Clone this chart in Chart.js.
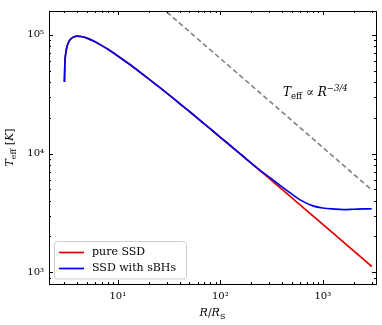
<!DOCTYPE html>
<html>
<head>
<meta charset="utf-8">
<script src="https://cdn.jsdelivr.net/npm/chart.js@4"></script>
<style>
  html, body { margin: 0; padding: 0; background: #fff; }
</style>
</head>
<body>
<canvas id="teffChart" width="382" height="325"></canvas>
<script>
// radius in units of R_S, temperatures in K
const radius = [3.01, 3.05, 3.1, 3.2, 3.35, 3.5, 3.75, 4, 4.5, 5, 6, 7, 8, 10, 13, 16, 20, 25, 32, 40, 50, 65, 80, 100, 130, 160, 200, 250, 300, 400, 500, 600, 800, 1000, 1300, 1600, 2000, 2500, 3000];
const tempPure = [40000, 59500, 69700, 80400, 88600, 92900, 96400, 97500, 96500, 93900, 87400, 81200, 75600, 66400, 56500, 49400, 42600, 36600, 30900, 26400, 22600, 18700, 16100, 13700, 11350, 9760, 8290, 7040, 6160, 4980, 4220, 3690, 2980, 2530, 2080, 1780, 1510, 1280, 1115];
const tempSBH = [40000, 59500, 69700, 80400, 88600, 92900, 96400, 97500, 96500, 93900, 87400, 81200, 75600, 66400, 56500, 49400, 42600, 36600, 30900, 26400, 22600, 18700, 16100, 13700, 11350, 9760, 8290, 7110, 6320, 5230, 4540, 4065, 3620, 3470, 3400, 3370, 3390, 3410, 3420];

// T ~ R^-3/4 guide line
const guideRadius = [20, 3000];
const guideTemp = [211500, 4930];

const seriesLabels = ["pure SSD", "SSD with sBHs"];
const seriesColors = ["rgb(220,0,0)", "rgb(0,0,235)"];

const xTickVals = [10, 100, 1000];
const yTickVals = [1000, 10000, 100000];
const supDigits = { "1": "\u00b9", "2": "\u00b2", "3": "\u00b3", "4": "\u2074", "5": "\u2075" };

const SERIF = "'DejaVu Serif', serif";

function toPoints(xs, ys) {
  return xs.map((x, i) => ({ x: x, y: ys[i] }));
}

function powLabel(v) {
  const e = Math.round(Math.log10(v));
  return "10" + supDigits[String(e)];
}

// draws a list of text pieces one after another
function drawRich(ctx, parts, x, y, align) {
  let total = 0;
  parts.forEach(p => { ctx.font = p.font; total += ctx.measureText(p.t).width; });
  let cx = align === "center" ? x - total / 2 : x;
  parts.forEach(p => {
    ctx.font = p.font;
    ctx.fillText(p.t, cx, y + (p.dy || 0));
    cx += ctx.measureText(p.t).width;
  });
}

const decorPlugin = {
  id: "decor",
  afterDatasetsDraw(chart) {
    const ctx = chart.ctx;
    const a = chart.chartArea;
    const xs = chart.scales.x, ys = chart.scales.y;
    ctx.save();
    ctx.strokeStyle = "#000";
    ctx.lineWidth = 1;

    // inward ticks on all four sides
    function ticksFor(scale, horizontal) {
      const lo = Math.floor(Math.log10(scale.min)), hi = Math.ceil(Math.log10(scale.max));
      for (let e = lo; e <= hi; e++) {
        for (let k = 1; k < 10; k++) {
          const v = k * Math.pow(10, e);
          if (v < scale.min || v > scale.max) continue;
          const len = k === 1 ? 4 : 2;
          const p = Math.round(scale.getPixelForValue(v)) + 0.5;
          ctx.beginPath();
          if (horizontal) {
            ctx.moveTo(p, a.bottom); ctx.lineTo(p, a.bottom - len);
            ctx.moveTo(p, a.top); ctx.lineTo(p, a.top + len);
          } else {
            ctx.moveTo(a.left, p); ctx.lineTo(a.left + len, p);
            ctx.moveTo(a.right, p); ctx.lineTo(a.right - len, p);
          }
          ctx.stroke();
        }
      }
    }
    ticksFor(xs, true);
    ticksFor(ys, false);

    // frame
    ctx.strokeRect(Math.round(a.left) + 0.5, Math.round(a.top) + 0.5,
      Math.round(a.right - a.left), Math.round(a.bottom - a.top));

    ctx.fillStyle = "#000";
    ctx.textBaseline = "alphabetic";

    // annotation
    drawRich(ctx, [
      { t: "T", font: "italic 12px " + SERIF },
      { t: "eff", font: "8.5px " + SERIF, dy: 2.5 },
      { t: " \u221d ", font: "12px " + SERIF },
      { t: "R", font: "italic 12px " + SERIF },
      { t: "\u22123/4", font: "italic 8.5px " + SERIF, dy: -5.5 }
    ], 283, 96, "left");

    // x title
    drawRich(ctx, [
      { t: "R", font: "italic 11px " + SERIF },
      { t: "/", font: "11px " + SERIF },
      { t: "R", font: "italic 11px " + SERIF },
      { t: "S", font: "8px " + SERIF, dy: 2.5 }
    ], (a.left + a.right) / 2, 316, "center");

    // y title
    ctx.save();
    ctx.translate(13, (a.top + a.bottom) / 2);
    ctx.rotate(-Math.PI / 2);
    drawRich(ctx, [
      { t: "T", font: "italic 11px " + SERIF },
      { t: "eff", font: "8px " + SERIF, dy: 2.5 },
      { t: " [", font: "11px " + SERIF },
      { t: "K", font: "italic 11px " + SERIF },
      { t: "]", font: "11px " + SERIF }
    ], 0, 0, "center");
    ctx.restore();

    // legend box, lower left
    const bx = 54.5, by = 241.5, bw = 132, bh = 37.5;
    ctx.beginPath();
    ctx.roundRect(bx, by, bw, bh, 3);
    ctx.fillStyle = "rgba(255,255,255,0.85)";
    ctx.fill();
    ctx.strokeStyle = "#cccccc";
    ctx.stroke();
    seriesLabels.forEach((lab, i) => {
      const yy = 252.5 + i * 16;
      ctx.strokeStyle = seriesColors[i];
      ctx.lineWidth = 1.7;
      ctx.beginPath();
      ctx.moveTo(59, yy); ctx.lineTo(84, yy);
      ctx.stroke();
      ctx.fillStyle = "#000";
      ctx.font = "11px " + SERIF;
      ctx.textBaseline = "middle";
      ctx.fillText(lab, 92, yy);
    });
    ctx.restore();
  }
};

const data = {
  datasets: [
    {
      label: seriesLabels[0],
      data: toPoints(radius, tempPure),
      borderColor: seriesColors[0],
      borderWidth: 1.7,
      pointRadius: 0,
      cubicInterpolationMode: "monotone",
      order: 1,
    },
    {
      label: seriesLabels[1],
      data: toPoints(radius, tempSBH),
      borderColor: seriesColors[1],
      borderWidth: 1.7,
      pointRadius: 0,
      cubicInterpolationMode: "monotone",
      order: 0,
    },
    {
      label: "guide",
      data: toPoints(guideRadius, guideTemp),
      borderColor: "#808080",
      borderWidth: 1.6,
      borderDash: [5, 3],
      pointRadius: 0,
      order: 2,
    },
  ],
};

const config = {
  type: "line",
  data: data,
  options: {
    responsive: false,
    animation: false,
    devicePixelRatio: 1,
    layout: { padding: { left: 0, right: 6, top: 5, bottom: 0 } },
    plugins: {
      legend: { display: false },
      tooltip: { enabled: false },
    },
    scales: {
      x: {
        type: "logarithmic",
        min: 2.13,
        max: 3300,
        grid: { display: false, drawTicks: false },
        border: { display: false },
        afterBuildTicks: s => { s.ticks = xTickVals.map(v => ({ value: v })); },
        afterFit: s => { s.height = 41; },
        ticks: {
          autoSkip: false,
          maxRotation: 0,
          padding: 6,
          color: "#000",
          font: { family: SERIF, size: 10 },
          callback: v => powLabel(v),
        },
      },
      y: {
        type: "logarithmic",
        min: 794,
        max: 159000,
        grid: { display: false, drawTicks: false },
        border: { display: false },
        afterBuildTicks: s => { s.ticks = yTickVals.map(v => ({ value: v })); },
        afterFit: s => { s.width = 49; },
        ticks: {
          autoSkip: false,
          padding: 5,
          color: "#000",
          font: { family: SERIF, size: 10 },
          callback: v => powLabel(v),
        },
      },
    },
  },
  plugins: [decorPlugin],
};

const ctx = document.getElementById("teffChart").getContext("2d");
new Chart(ctx, config);
</script>
</body>
</html>
